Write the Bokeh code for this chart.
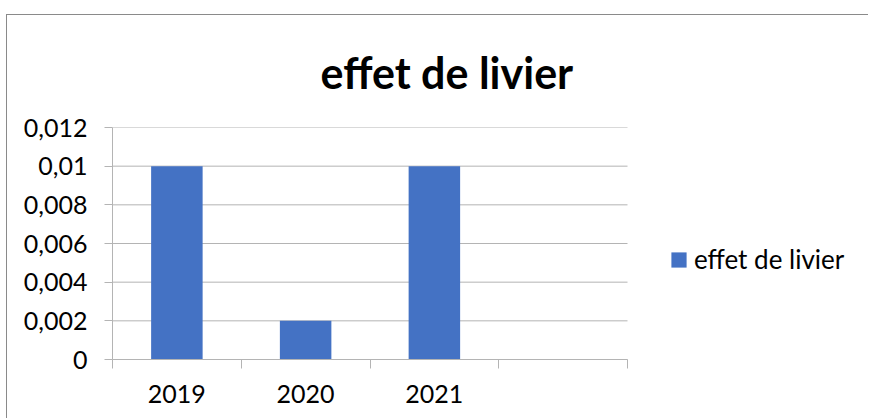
from bokeh.plotting import figure
from bokeh.models import (Range1d, LinearAxis, FixedTicker, Legend,
                          LegendItem, Title, ColumnDataSource)
from bokeh.embed import file_html
from bokeh.resources import INLINE

# ---- data ----
categories = ["2019", "2020", "2021", " "]
bar_years = ["2019", "2020", "2021"]
bar_values = [0.01, 0.002, 0.01]
y_ticks = [0, 0.002, 0.004, 0.006, 0.008, 0.01, 0.012]
y_tick_labels = ["0", "0,002", "0,004", "0,006", "0,008", "0,01", "0,012"]
series_name = "effet de livier"
title_text = "effet de livier"

FONT = "Lato"
GRID = "#b4b4b4"
BLUE = "#4472C4"
EDGE = "#8a8a8a"

# layout (pixels): plotting area 515px wide inside a 756px wide canvas frame
PLOT_W = 515
FRAME_W = 756

# category slots: label at the middle of each slot, ticks at slot edges
n = len(categories)
centers = [i + 0.5 for i in range(n)]
edges = [i for i in range(n + 1)]
bar_x = [categories.index(y) + 0.5 for y in bar_years]

p = figure(x_range=Range1d(0, n * FRAME_W / PLOT_W),
           y_range=Range1d(0, 0.012),
           width=862, height=414,
           output_backend="svg", toolbar_location=None,
           x_axis_location=None, y_axis_location=None,
           min_border_left=106, min_border_right=0,
           min_border_top=123, min_border_bottom=59,
           margin=(4, 0, 0, 6))
# chart-area border (top and left edges) painted behind a transparent canvas
p.styles = {
    "background-image": f"linear-gradient({EDGE}, {EDGE}), linear-gradient({EDGE}, {EDGE})",
    "background-size": "100% 1px, 1px 100%",
    "background-position": "0 10px, 0 10px",
    "background-repeat": "no-repeat",
}
p.outline_line_color = None
p.background_fill_color = "white"
p.border_fill_color = None
p.xgrid.grid_line_color = None
p.ygrid.grid_line_color = None

# horizontal gridlines limited to the category slots
p.segment(x0=[0] * len(y_ticks), x1=[n] * len(y_ticks), y0=y_ticks, y1=y_ticks,
          line_color=GRID, line_width=1)

src = ColumnDataSource(dict(x=bar_x, top=bar_values))
r = p.vbar(x="x", top="top", width=0.4, source=src, fill_color=BLUE, line_color=None)

# y axis
yax = LinearAxis(ticker=FixedTicker(ticks=y_ticks),
                 major_label_overrides={t: l for t, l in zip(y_ticks, y_tick_labels)})
yax.axis_line_color = GRID
yax.major_tick_line_color = GRID
yax.major_tick_in = 0
yax.major_tick_out = 8
yax.minor_tick_line_color = None
yax.major_label_standoff = 17
yax.major_label_text_font = FONT
yax.major_label_text_font_size = "25px"
yax.major_label_text_color = "black"
p.add_layout(yax, "left")

# x axis
xax = LinearAxis(ticker=FixedTicker(ticks=centers, minor_ticks=edges),
                 major_label_overrides={c: lab for c, lab in zip(centers, categories)},
                 bounds=(0, n))
xax.axis_line_color = GRID
xax.major_tick_line_color = None
xax.minor_tick_line_color = GRID
xax.minor_tick_in = 0
xax.minor_tick_out = 9
xax.major_label_standoff = 9
xax.major_label_text_font = FONT
xax.major_label_text_font_size = "25px"
xax.major_label_text_color = "black"
p.add_layout(xax, "below")

# title
t = Title(text=title_text, align="left", offset=208, text_font=FONT,
          text_font_size="43px", text_font_style="bold", text_color="black",
          standoff=60)
p.add_layout(t, "above")

# legend
legend = Legend(items=[LegendItem(label=series_name, renderers=[r])],
                location=(557, 84), orientation="vertical",
                padding=0, margin=0, border_line_color=None,
                background_fill_alpha=0, glyph_width=19, glyph_height=19,
                label_height=17, label_standoff=6,
                label_text_font=FONT, label_text_font_size="26px",
                label_text_color="black")
p.add_layout(legend, "center")

open("out.html", "w").write(file_html(p, INLINE))
